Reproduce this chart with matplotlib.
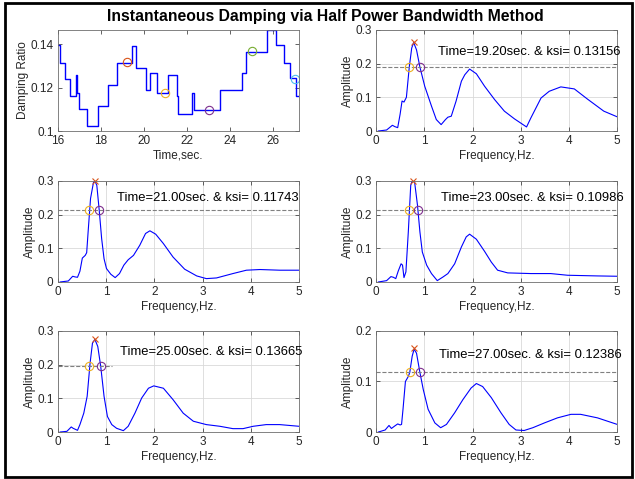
import matplotlib
matplotlib.use("Agg")
import matplotlib.pyplot as plt
from matplotlib.patches import Rectangle

plt.rcParams["font.family"] = ["Liberation Sans", "DejaVu Sans"]

# instantaneous damping ratio (step history)
step_t = [16.0, 16.106, 16.34, 16.57, 16.84, 16.89, 17.0, 17.35, 17.87, 18.33, 18.75,
          19.46, 19.65, 20.12, 20.29, 20.61, 21.14, 21.53, 21.6, 22.22, 22.33, 23.51,
          24.55, 24.76, 25.71, 26.14, 26.52, 26.78, 27.06, 27.2]
step_ksi = [0.1394, 0.1315, 0.1239, 0.1159, 0.1258, 0.1173, 0.1099, 0.1023, 0.1116,
            0.1212, 0.1315, 0.1391, 0.1292, 0.1188, 0.1267, 0.1173, 0.1256, 0.1161,
            0.1076, 0.1173, 0.1096, 0.1187, 0.1269, 0.1363, 0.1463, 0.1394, 0.1315,
            0.1243, 0.1159, 0.1159]

sel_times = [19.2, 21.0, 23.0, 25.0, 27.0]
sel_ksi = [0.13156, 0.11743, 0.10986, 0.13665, 0.12386]
sel_colors = ["#D95319", "#EDB120", "#7E2F8E", "#77AC30", "#4DBEEE"]

# amplitude spectra at the selected times
f_a = [0.05, 0.22, 0.34, 0.39, 0.45, 0.5, 0.54, 0.58, 0.63, 0.69, 0.74, 0.78, 0.84, 0.91,
       1.01, 1.15, 1.25, 1.35, 1.44, 1.49, 1.56, 1.66, 1.77, 1.84, 1.94, 2.08, 2.25, 2.46,
       2.66, 2.87, 3.12, 3.21, 3.42, 3.59, 3.83, 4.11, 4.38, 4.72, 5.0]
amp_a = [0, 0.003, 0.017, 0.013, 0.01, 0.05, 0.089, 0.086, 0.10, 0.19, 0.246, 0.263, 0.241,
         0.19, 0.133, 0.074, 0.034, 0.019, 0.034, 0.041, 0.044, 0.089, 0.148, 0.167, 0.184,
         0.170, 0.133, 0.093, 0.059, 0.036, 0.012, 0.039, 0.098, 0.118, 0.131, 0.125, 0.095,
         0.059, 0.042]

f_b = [0.05, 0.22, 0.31, 0.36, 0.41, 0.46, 0.51, 0.57, 0.6, 0.63, 0.68, 0.74, 0.77, 0.81,
       0.86, 0.91, 0.96, 1.01, 1.1, 1.19, 1.28, 1.37, 1.46, 1.57, 1.70, 1.82, 1.91, 2.03,
       2.19, 2.39, 2.63, 2.88, 3.08, 3.29, 3.63, 3.91, 4.19, 4.6, 5.0]
amp_b = [0, 0.003, 0.017, 0.015, 0.014, 0.032, 0.071, 0.079, 0.087, 0.149, 0.248, 0.295,
         0.30, 0.287, 0.213, 0.129, 0.069, 0.040, 0.023, 0.013, 0.025, 0.05, 0.066, 0.079,
         0.109, 0.144, 0.152, 0.142, 0.114, 0.074, 0.038, 0.018, 0.010, 0.012, 0.025, 0.035,
         0.037, 0.035, 0.035]

f_c = [0.05, 0.22, 0.31, 0.36, 0.41, 0.46, 0.52, 0.55, 0.58, 0.62, 0.67, 0.72, 0.75, 0.80,
       0.86, 0.91, 0.96, 1.05, 1.15, 1.27, 1.39, 1.49, 1.63, 1.77, 1.87, 1.94, 2.08, 2.25,
       2.39, 2.52, 2.73, 3.21, 3.62, 3.97, 4.59, 5.0]
amp_c = [0, 0.004, 0.016, 0.014, 0.01, 0.032, 0.054, 0.05, 0.013, 0.03, 0.149, 0.287, 0.30,
         0.297, 0.228, 0.149, 0.089, 0.050, 0.025, 0.004, 0.015, 0.025, 0.054, 0.104, 0.134,
         0.142, 0.127, 0.091, 0.059, 0.035, 0.027, 0.025, 0.025, 0.020, 0.018, 0.017]

f_d = [0.05, 0.19, 0.28, 0.32, 0.41, 0.46, 0.54, 0.61, 0.67, 0.72, 0.77, 0.83, 0.89, 0.96,
       1.03, 1.12, 1.22, 1.36, 1.46, 1.6, 1.74, 1.88, 1.99, 2.19, 2.39, 2.6, 2.81, 3.08,
       3.36, 3.63, 3.84, 4.05, 4.32, 4.6, 5.0]
amp_d = [0, 0.002, 0.015, 0.011, 0.005, 0.022, 0.056, 0.106, 0.204, 0.264, 0.275, 0.254,
         0.196, 0.106, 0.046, 0.022, 0.011, 0.004, 0.017, 0.056, 0.101, 0.130, 0.137, 0.130,
         0.096, 0.056, 0.032, 0.022, 0.017, 0.010, 0.010, 0.017, 0.022, 0.022, 0.017]

f_e = [0.05, 0.19, 0.27, 0.32, 0.39, 0.45, 0.5, 0.53, 0.56, 0.61, 0.67, 0.70, 0.75, 0.79,
       0.84, 0.91, 0.98, 1.08, 1.22, 1.34, 1.46, 1.63, 1.80, 1.97, 2.08, 2.21, 2.39, 2.59,
       2.76, 2.9, 3.07, 3.25, 3.49, 3.76, 4.04, 4.24, 4.59, 5.0]
amp_e = [0, 0.004, 0.013, 0.007, 0.012, 0.016, 0.014, 0.015, 0.045, 0.10, 0.110, 0.118,
         0.150, 0.164, 0.156, 0.118, 0.084, 0.045, 0.018, 0.0085, 0.015, 0.038, 0.064, 0.087,
         0.096, 0.090, 0.068, 0.038, 0.015, 0.004, 0.003, 0.0085, 0.018, 0.028, 0.035, 0.035,
         0.028, 0.015]

freqs = [f_a, f_b, f_c, f_d, f_e]
amps = [amp_a, amp_b, amp_c, amp_d, amp_e]
peak_f = [0.78, 0.77, 0.77, 0.77, 0.78]
peak_amp = [0.265, 0.30, 0.30, 0.276, 0.166]
half_level = [0.19, 0.215, 0.213, 0.196, 0.118]
half_f1 = [0.69, 0.655, 0.69, 0.655, 0.70]
half_f2 = [0.91, 0.85, 0.87, 0.89, 0.91]
half_line_end = [5.0, 5.0, 5.0, 1.12, 5.0]
y_tops = [0.3, 0.3, 0.3, 0.3, 0.2]
text_xy = [(1.28, 0.235), (1.22, 0.25), (1.34, 0.248), (1.29, 0.237), (1.30, 0.153)]

TXT = "#262626"


def style(ax):
    ax.tick_params(direction="in", length=3, width=0.5, top=True, right=True,
                   labelsize=8.5, colors=TXT, pad=3)
    for s in ax.spines.values():
        s.set_color("#6e6e6e")
        s.set_linewidth(0.6)


fig = plt.figure(figsize=(6.35, 4.79), dpi=100)
fig.patches.append(Rectangle((5 / 635, 2 / 479), 627 / 635, 474 / 479,
                             transform=fig.transFigure, fill=False,
                             edgecolor="black", linewidth=2))

fig.text(325 / 635, 1 - 16 / 479,
         "Instantaneous Damping via Half Power Bandwidth Method",
         ha="center", va="center", fontsize=11.3, fontweight="bold")

lefts = [0.0909, 0.5921]
bottoms = [0.7265, 0.4113, 0.0981]
w, h = 0.380, 0.2109

# damping history
ax0 = fig.add_axes([lefts[0], bottoms[0], w, h])
ax0.step(step_t, step_ksi, where="post", color="blue", linewidth=1.0)
for t, k, c in zip(sel_times, sel_ksi, sel_colors):
    ax0.plot(t, k, "o", mfc="none", mec=c, ms=6, mew=0.8)
ax0.set_xlim(16, 27.2)
ax0.set_ylim(0.1, 0.1465)
ax0.set_xticks([16, 18, 20, 22, 24, 26])
ax0.set_yticks([0.1, 0.12, 0.14])
ax0.set_yticklabels(["0.1", "0.12", "0.14"])
ax0.set_xlabel("Time,sec.", fontsize=8.5, color=TXT, labelpad=2)
ax0.set_ylabel("Damping Ratio", fontsize=8.5, color=TXT, labelpad=1)
style(ax0)

positions = [(lefts[1], bottoms[0]), (lefts[0], bottoms[1]), (lefts[1], bottoms[1]),
             (lefts[0], bottoms[2]), (lefts[1], bottoms[2])]

for i, (l, b) in enumerate(positions):
    ax = fig.add_axes([l, b, w, h])
    ax.grid(True, color="#d9d9d9", linewidth=0.6)
    ax.set_axisbelow(True)
    ax.plot(freqs[i], amps[i], color="blue", linewidth=0.8)
    ax.plot([0, half_line_end[i]], [half_level[i], half_level[i]], "--",
            color="#808080", linewidth=0.8, clip_on=False)
    ax.plot(peak_f[i], peak_amp[i], "x", color="#D95319", ms=5, mew=0.8, clip_on=False)
    ax.plot(half_f1[i], half_level[i], "o", mfc="none", mec="#EDB120", ms=6, mew=0.8)
    ax.plot(half_f2[i], half_level[i], "o", mfc="none", mec="#7E2F8E", ms=6, mew=0.8)
    ax.text(text_xy[i][0], text_xy[i][1],
            "Time=%.2fsec. & ksi= %.5f" % (sel_times[i], sel_ksi[i]),
            fontsize=9.4, va="center", ha="left", clip_on=False)
    ax.set_xlim(0, 5)
    ax.set_ylim(0, y_tops[i])
    ax.set_xticks([0, 1, 2, 3, 4, 5])
    if y_tops[i] == 0.3:
        ax.set_yticks([0, 0.1, 0.2, 0.3])
        ax.set_yticklabels(["0", "0.1", "0.2", "0.3"])
    else:
        ax.set_yticks([0, 0.1, 0.2])
        ax.set_yticklabels(["0", "0.1", "0.2"])
    ax.set_xlabel("Frequency,Hz.", fontsize=8.5, color=TXT, labelpad=2)
    ax.set_ylabel("Amplitude", fontsize=8.5, color=TXT, labelpad=1)
    style(ax)

fig.savefig("out.png", dpi=100)
